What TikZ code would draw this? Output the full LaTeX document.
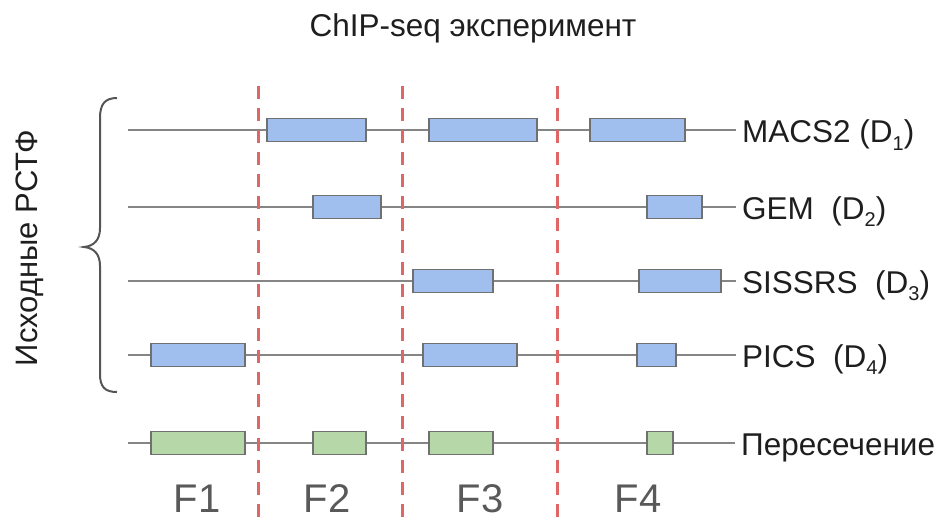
\documentclass[tikz,border=0pt]{standalone}
\usepackage{fontspec}
\setmainfont{Liberation Sans}
\definecolor{bluefill}{HTML}{A0BEEE}
\definecolor{greenfill}{HTML}{B6D7A8}
\definecolor{boxedge}{HTML}{707070}
\definecolor{trackgray}{HTML}{858585}
\definecolor{dashred}{HTML}{E06666}
\definecolor{fgray}{HTML}{595959}
\definecolor{bracegray}{HTML}{555555}
\definecolor{txt}{HTML}{1E1E1E}
\newcommand{\subd}[1]{\raisebox{-7pt}{\fontsize{20}{20}\selectfont #1}}
\tikzset{
  track/.style={draw=trackgray, line width=2pt},
  bluebox/.style={draw=boxedge, fill=bluefill, line width=1.5pt, minimum height=23pt, inner sep=0pt},
  greenbox/.style={draw=boxedge, fill=greenfill, line width=1.5pt, minimum height=23pt, inner sep=0pt},
  divider/.style={draw=dashred, line width=3pt, dash pattern=on 13pt off 9pt},
  rowlabel/.style={anchor=base west, inner xsep=6pt, inner ysep=0pt, text=txt, font=\fontsize{31.5}{31.5}\selectfont},
  flabel/.style={anchor=base, text=fgray, font=\fontsize{40}{40}\selectfont},
}
\begin{document}
\begin{tikzpicture}[x=1pt,y=-1pt]
\useasboundingbox (0,0) rectangle (940,524);
% title
\node[anchor=base, text=txt, font=\fontsize{31.5}{31.5}\selectfont] (title) at (473,37) {ChIP-seq эксперимент};
% side label and brace
\node[rotate=90, anchor=base, text=txt, font=\fontsize{31}{31}\selectfont] (src) at (37,248) {Исходные РСТФ};
\draw[bracegray, line width=2pt] (117,98) .. controls (105,98) and (100,104) .. (100,118) -- (100,228) .. controls (100,240) and (94,246) .. (84,247) .. controls (94,248) and (100,254) .. (100,266) -- (100,374) .. controls (100,387) and (105,392) .. (117,392);
% labels
\node[rowlabel] (l1) at (736,143) {MACS2 (D\subd{1})};
\node[rowlabel] (l2) at (736,219) {GEM\ \ (D\subd{2})};
\node[rowlabel] (l3) at (736,293) {SISSRS\ \ (D\subd{3})};
\node[rowlabel] (l4) at (736,367) {PICS\ \ (D\subd{4})};
\node[rowlabel] (l5) at (735,455) {Пересечение};
% tracks
\coordinate (s1) at (128,130);
\coordinate (s2) at (128,207);
\coordinate (s3) at (128,281);
\coordinate (s4) at (128,355);
\coordinate (s5) at (128,443);
\draw[track] (s1) -- (s1 -| l1.west);
\draw[track] (s2) -- (s2 -| l2.west);
\draw[track] (s3) -- (s3 -| l3.west);
\draw[track] (s4) -- (s4 -| l4.west);
\draw[track] (s5) -- (s5 -| l5.west);
% dividers
\coordinate (d1t) at (258,86); \coordinate (d1b) at (258,524);
\coordinate (d2t) at (402,86); \coordinate (d2b) at (402,524);
\coordinate (d3t) at (557,86); \coordinate (d3b) at (557,524);
\draw[divider] (d1t) -- (d1b);
\draw[divider] (d2t) -- (d2b);
\draw[divider] (d3t) -- (d3b);
% MACS2
\node[bluebox, minimum width=99pt] (m1) at (316.5,130) {};
\node[bluebox, minimum width=108pt] (m2) at (483,130) {};
\node[bluebox, minimum width=95pt] (m3) at (637.5,130) {};
% GEM
\node[bluebox, minimum width=68pt] (g1) at (347,207) {};
\node[bluebox, minimum width=55pt] (g2) at (674.5,207) {};
% SISSRS
\node[bluebox, minimum width=80pt] (r1) at (453,281) {};
\node[bluebox, minimum width=82pt] (r2) at (680,281) {};
% PICS
\node[bluebox, minimum width=94pt] (p1) at (198,355) {};
\node[bluebox, minimum width=94pt] (p2) at (470,355) {};
\node[bluebox, minimum width=39pt] (p3) at (656.5,355) {};
% intersection
\node[greenbox, minimum width=94pt] (i1) at (198,443) {};
\node[greenbox, minimum width=53pt] (i2) at (339.5,443) {};
\node[greenbox, minimum width=64pt] (i3) at (461,443) {};
\node[greenbox, minimum width=26pt] (i4) at (660,443) {};
% F labels
\node[flabel] (f1) at (197,512) {F1};
\node[flabel] (f2) at (327,512) {F2};
\node[flabel] (f3) at (480,512) {F3};
\node[flabel] (f4) at (638,512) {F4};
\end{tikzpicture}
\end{document}
